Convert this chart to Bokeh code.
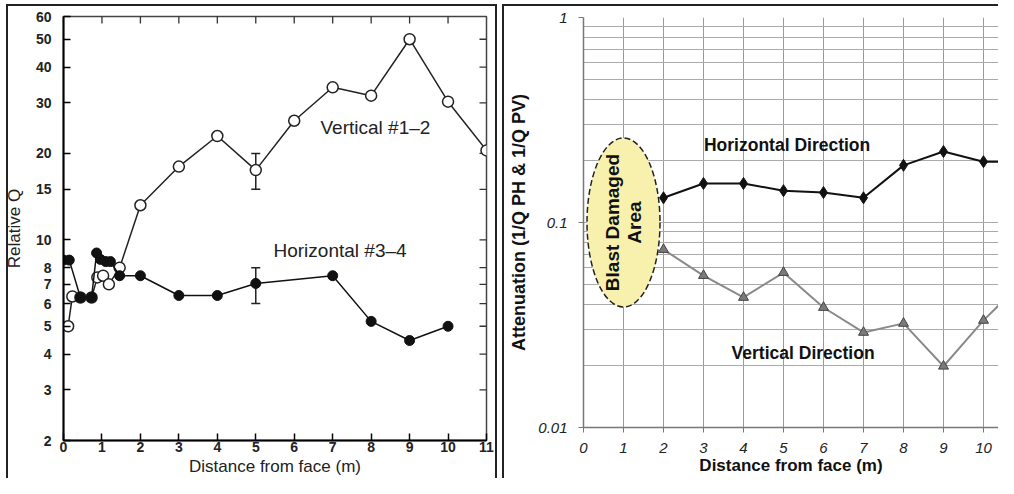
import math
from bokeh.plotting import figure
from bokeh.models import Range1d, FixedTicker, Whisker, ColumnDataSource
from bokeh.embed import file_html
from bokeh.resources import INLINE
from bokeh.core.properties import value

# ---------------- Left panel data (Relative Q) ----------------
vert_x = [0.12, 0.23, 0.44, 0.73, 0.88, 1.03, 1.18, 1.46, 2, 3, 4, 5, 6, 7, 8, 9, 10, 11]
vert_q = [5.0, 6.35, 6.3, 6.3, 7.4, 7.5, 7.0, 8.0, 13.2, 18.0, 23.0, 17.5, 26.0, 34.0, 31.8, 50.0, 30.3, 20.5]
horz_x = [0.0, 0.15, 0.44, 0.73, 0.86, 0.96, 1.1, 1.22, 1.46, 2, 3, 4, 5, 7, 8, 9, 10]
horz_q = [8.5, 8.5, 6.3, 6.3, 9.0, 8.55, 8.4, 8.4, 7.5, 7.5, 6.4, 6.4, 7.05, 7.5, 5.2, 4.46, 5.0]
err_x = [5, 5]
err_lo = [15, 6]
err_hi = [20, 8]
left_yticks = [2, 3, 4, 5, 6, 7, 8, 10, 15, 20, 30, 40, 50, 60]
left_xticks = list(range(0, 12))

# ---------------- Right panel data (Attenuation) ----------------
dist = [2, 3, 4, 5, 6, 7, 8, 9, 10, 11]
att_h = [0.132, 0.155, 0.155, 0.143, 0.140, 0.132, 0.190, 0.222, 0.198, 0.198]
att_v = [0.0738, 0.0551, 0.0431, 0.057, 0.0385, 0.0291, 0.0322, 0.0199, 0.0333, 0.052]
right_yticks = [0.01, 0.1, 1]
right_xticks = list(range(0, 11))

FONT = "Liberation Sans"
H = 478

# ================= LEFT =================
L_X = (0, 11)
L_Y = (2, 60)
p1 = figure(width=497, height=H, y_axis_type="log",
            x_range=Range1d(*L_X), y_range=Range1d(*L_Y),
            output_backend="svg", toolbar_location=None,
            min_border_left=63, min_border_right=11, min_border_top=16, min_border_bottom=38)
p1.grid.visible = False
p1.outline_line_color = "#444"
p1.outline_line_width = 1.5
p1.border_fill_color = None
p1.styles = {"float": "left",
             "box-shadow": "inset 0 4px 0 white, inset 6px 0 0 white, inset 8px 6px 0 #222, inset -2px 0 0 #222"}

for ax in (p1.xaxis[0], p1.yaxis[0]):
    ax.axis_line_color = "black"
    ax.axis_line_width = 2
    ax.major_tick_in = 7
    ax.major_tick_out = 0
    ax.major_tick_line_width = 1.5
    ax.minor_tick_line_color = None
    ax.major_label_text_font = FONT
    ax.major_label_text_font_style = "bold"
    ax.major_label_text_font_size = "14px"
    ax.major_label_text_color = "#222"
    ax.axis_label_text_font = FONT
    ax.axis_label_text_font_style = "normal"
    ax.axis_label_text_font_size = "17px"
    ax.axis_label_text_color = "#222"

p1.xaxis.ticker = FixedTicker(ticks=left_xticks)
p1.xaxis.major_label_standoff = 1
p1.xaxis.axis_label = "Distance from face (m)"
p1.xaxis.axis_label_standoff = 2
p1.yaxis.ticker = FixedTicker(ticks=left_yticks, minor_ticks=[])
p1.yaxis.major_label_overrides = {t: str(t) for t in left_yticks}
p1.yaxis.major_label_standoff = 12
p1.yaxis.axis_label = "Relative Q"
p1.yaxis.axis_label_standoff = 9

# inner ticks on the top and right spines (half of each dash is clipped by the frame)
top_ticks = left_xticks[1:-1]
right_ticks = left_yticks[1:-1]
p1.scatter(x=top_ticks, y=[L_Y[1]] * len(top_ticks), marker="dash", angle=math.pi / 2, size=14,
           line_color="#333", line_width=1.3)
p1.scatter(x=[L_X[1]] * len(right_ticks), y=right_ticks, marker="dash", size=14,
           line_color="#333", line_width=1.3)

p1.line(vert_x, vert_q, line_color="#222", line_width=1.5)
p1.scatter(vert_x, vert_q, size=11, marker="circle", fill_color="white", line_color="#222", line_width=1.5)
p1.line(horz_x, horz_q, line_color="#111", line_width=1.5)
p1.scatter(horz_x, horz_q, size=10, marker="circle", fill_color="#111", line_color="#111")

err_src = ColumnDataSource(dict(x=err_x, lo=err_lo, hi=err_hi))
p1.add_layout(Whisker(source=err_src, base="x", lower="lo", upper="hi", line_color="#222", line_width=1.5,
                      upper_head=None, lower_head=None))
p1.scatter(x=err_x, y=err_lo, marker="dash", size=9, line_color="#222", line_width=1.5)
p1.scatter(x=err_x, y=err_hi, marker="dash", size=9, line_color="#222", line_width=1.5)

p1.text(x=[8.18], y=[24.6], text=["Vertical  #1–2"], text_align="center", text_baseline="middle",
        text_font=value(FONT), text_font_size="19px", text_color="#222")
p1.text(x=[7.26], y=[9.19], text=["Horizontal  #3–4"], text_align="center", text_baseline="middle",
        text_font=value(FONT), text_font_size="19px", text_color="#222")

# ================= RIGHT =================
p2 = figure(width=496, height=H, y_axis_type="log",
            x_range=Range1d(0, 10.375), y_range=Range1d(0.01, 1),
            output_backend="svg", toolbar_location=None,
            min_border_left=81, min_border_right=0, min_border_top=17, min_border_bottom=51)
p2.outline_line_color = None
p2.border_fill_color = None
p2.styles = {"float": "left", "margin-left": "5px",
             "box-shadow": "inset 0 4px 0 white, inset 2px 6px 0 #222"}

minor = [k * 10.0 ** e for e in (-2, -1) for k in range(2, 10)]
p2.yaxis.ticker = FixedTicker(ticks=right_yticks, minor_ticks=minor)
p2.yaxis.major_label_overrides = {0.01: "0.01", 0.1: "0.1", 1: "1"}
p2.xaxis.ticker = FixedTicker(ticks=right_xticks)
for ax in (p2.xaxis[0], p2.yaxis[0]):
    ax.axis_line_color = "#777"
    ax.axis_line_width = 1.5
    ax.major_tick_in = 0
    ax.major_tick_out = 5
    ax.major_tick_line_color = "#777"
    ax.minor_tick_line_color = None
    ax.major_label_text_font = FONT
    ax.major_label_text_font_style = "italic"
    ax.major_label_text_font_size = "15px"
    ax.major_label_text_color = "#222"
    ax.axis_label_text_font = FONT
    ax.axis_label_text_font_style = "bold"
    ax.axis_label_text_color = "#111"
p2.xaxis.axis_label_text_font_size = "17px"
p2.yaxis.axis_label_text_font_size = "18px"
p2.xaxis.major_label_standoff = 10
p2.xaxis.axis_label_standoff = 0
p2.xaxis.axis_label = "Distance from face (m)"
p2.yaxis.major_label_standoff = 11
p2.yaxis.axis_label = "Attenuation (1/Q PH & 1/Q PV)"
p2.yaxis.axis_label_standoff = 6

p2.xgrid.grid_line_color = "#9a9a9a"
p2.xgrid.grid_line_width = 1
p2.ygrid.grid_line_color = "#aaaaaa"
p2.ygrid.minor_grid_line_color = "#aaaaaa"
p2.ygrid.grid_line_width = 1

# blast damaged area
p2.ellipse(x=[1], y=[0.1], width=73, height=169, width_units="screen", height_units="screen",
           fill_color="#f8f1ae", line_color="#222", line_dash="6 3", line_width=1.5)
p2.text(x=[1], y=[0.1], text=["Blast Damaged\nArea"], angle=math.pi / 2, text_align="center",
        text_baseline="middle", text_font=value(FONT), text_font_style="bold", text_font_size="19px",
        text_line_height=1.05, text_color="#111")

p2.line(dist, att_h, line_color="#111", line_width=2)
p2.scatter(dist, att_h, marker="diamond", size=12, fill_color="#111", line_color="#111")
p2.line(dist, att_v, line_color="#8a8a8a", line_width=2)
p2.scatter(dist, att_v, marker="triangle", size=10, fill_color="#7a7a7a", line_color="#444")

p2.text(x=[5.09], y=[0.238], text=["Horizontal Direction"], text_align="center", text_baseline="middle",
        text_font=value(FONT), text_font_style="bold", text_font_size="17.5px", text_color="#111")
p2.text(x=[5.49], y=[0.023], text=["Vertical Direction"], text_align="center", text_baseline="middle",
        text_font=value(FONT), text_font_style="bold", text_font_size="17.5px", text_color="#111")

open("out.html", "w").write(file_html([p1, p2], INLINE))
